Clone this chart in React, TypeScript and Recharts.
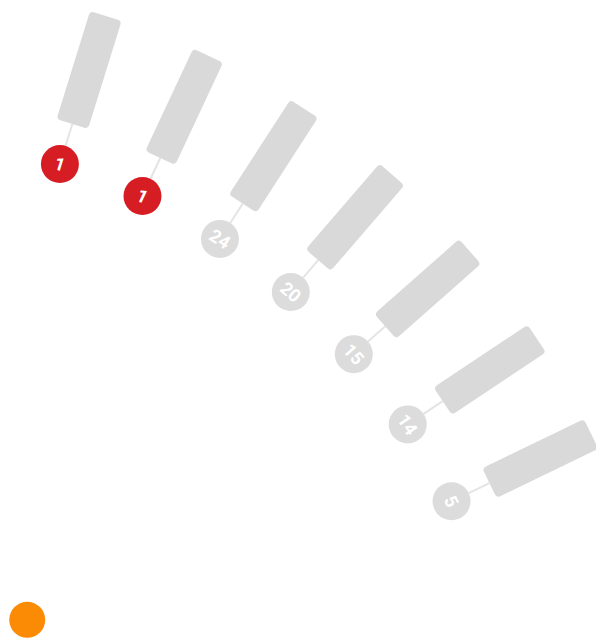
import React from 'react';
import { RadialBarChart, RadialBar, PolarAngleAxis, PolarRadiusAxis } from 'recharts';

// one entry per spoke, read left to right
const categories = ['A', 'B', 'C', 'D', 'E', 'F', 'G'];
const ranks = [1, 1, 24, 20, 15, 14, 5];
// every grey bar has the same length in the picture
const barValues = [100, 100, 100, 100, 100, 100, 100];

const data = categories.map((name, i) => ({ name, rank: ranks[i], value: barValues[i] }));

const RED = '#d71d24';
const BAR_GREY = '#d9d9d9';
const DOT_GREY = '#dcdcdc';
const LINK_GREY = '#e4e4e4';

// fan centre sits off-canvas, bottom-left
const CX = -132;
const CY = 783;
const RAD = Math.PI / 180;

const polar = (cx: number, cy: number, r: number, angle: number) => ({
  x: cx + r * Math.cos(-angle * RAD),
  y: cy + r * Math.sin(-angle * RAD),
});

const Spoke = (props: any) => {
  const { cx, cy, innerRadius, outerRadius, startAngle, endAngle, payload } = props;
  const mid = (startAngle + endAngle) / 2;
  const dotR = innerRadius - 42;
  const dot = polar(cx, cy, dotR, mid);
  const a = polar(cx, cy, dotR + 19, mid);
  const b = polar(cx, cy, innerRadius, mid);
  const isTop = payload.rank === 1;
  return (
    <g>
      <line x1={a.x} y1={a.y} x2={b.x} y2={b.y} stroke={LINK_GREY} strokeWidth={2} />
      <g transform={`translate(${cx},${cy}) rotate(${-mid})`}>
        <rect x={innerRadius} y={-16.5} width={outerRadius - innerRadius} height={33} rx={4} fill={BAR_GREY} />
      </g>
      <circle cx={dot.x} cy={dot.y} r={19} fill={isTop ? RED : DOT_GREY} />
      <text
        transform={`translate(${dot.x},${dot.y}) rotate(${90 - mid})`}
        textAnchor="middle"
        dominantBaseline="central"
        fill="#fff"
        fontFamily="Roboto, sans-serif"
        fontWeight="bold"
        fontSize={18}
      >
        {payload.rank}
      </text>
    </g>
  );
};

const marker = polar(CX, CY, 228, 45.7);

export default function App() {
  return (
    <div style={{ position: 'absolute', left: 0, top: 0 }}>
      <RadialBarChart
        width={596}
        height={644}
        data={data}
        layout="centric"
        cx={CX}
        cy={CY}
        innerRadius={690}
        outerRadius={803}
        startAngle={68.99}
        endAngle={14.15}
        margin={{ top: 0, right: 0, bottom: 0, left: 0 }}
      >
        <PolarAngleAxis type="category" dataKey="name" tick={false} axisLine={false} tickLine={false} />
        <PolarRadiusAxis type="number" domain={[0, 100]} tick={false} axisLine={false} tickLine={false} />
        <RadialBar dataKey="value" isAnimationActive={false} shape={Spoke} />
        <circle cx={marker.x} cy={marker.y} r={18} fill="#fb8a05" />
      </RadialBarChart>
    </div>
  );
}
